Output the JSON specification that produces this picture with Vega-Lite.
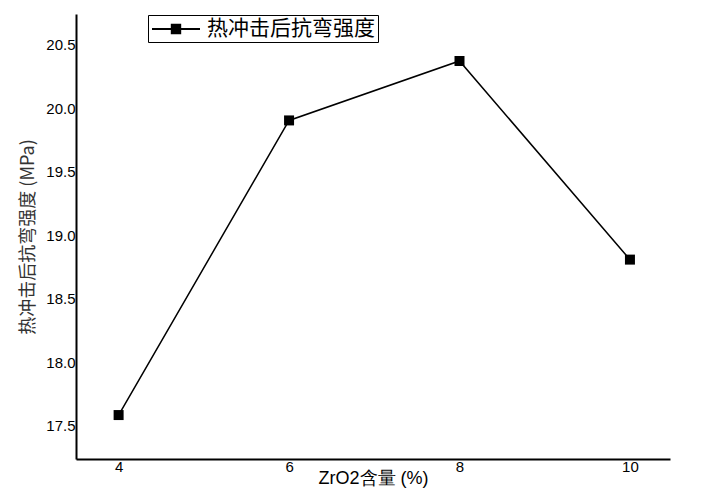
{
  "$schema": "https://vega.github.io/schema/vega-lite/v6.json",
  "autosize": "none",
  "width": 594,
  "height": 445,
  "padding": {"left": 76, "top": 14, "right": 58, "bottom": 40},
  "background": "white",
  "config": {"view": {"stroke": null}},
  "data": {"values": [
    {"x": 4, "y": 17.586, "s": "热冲击后抗弯强度"},
    {"x": 6, "y": 19.906, "s": "热冲击后抗弯强度"},
    {"x": 8, "y": 20.374, "s": "热冲击后抗弯强度"},
    {"x": 10, "y": 18.81, "s": "热冲击后抗弯强度"}
  ]},
  "encoding": {
    "x": {"field": "x", "type": "quantitative",
      "scale": {"domain": [3.5, 10.47], "nice": false, "zero": false},
      "axis": {"values": [4, 6, 8, 10], "title": "ZrO2含量 (%)", "grid": false, "ticks": false,
        "domainColor": "black", "domainWidth": 2, "labelFont": "Liberation Sans", "labelFontSize": 15,
        "labelColor": "black", "labelPadding": 0, "titleFont": "Liberation Sans", "titleFontSize": 18,
        "titleFontWeight": "normal", "titleColor": "black", "titlePadding": -5, "labelFlush": false}},
    "y": {"field": "y", "type": "quantitative",
      "scale": {"domain": [17.24, 20.744], "nice": false, "zero": false},
      "axis": {"values": [17.5, 18.0, 18.5, 19.0, 19.5, 20.0, 20.5], "format": ".1f", "title": "热冲击后抗弯强度 (MPa)",
        "grid": false, "ticks": false, "domainColor": "black", "domainWidth": 2,
        "labelFont": "Liberation Sans", "labelFontSize": 15, "labelColor": "black", "labelPadding": 1,
        "titleFont": "Noto Sans CJK SC", "titleFontSize": 18, "titleFontWeight": "normal", "titleColor": "#333",
        "titlePadding": 8, "labelFlush": false}},
    "color": {"field": "s", "type": "nominal", "scale": {"range": ["black"]},
      "legend": {"title": null, "orient": "none", "legendX": 72, "legendY": 1,
        "strokeColor": "black", "padding": 3, "labelFont": "Noto Sans CJK SC", "labelFontSize": 21,
        "labelColor": "black", "labelLimit": 400, "symbolType": "M-2.4,0L2.4,0M-0.42,-0.42L0.42,-0.42L0.42,0.42L-0.42,0.42Z",
        "symbolSize": 400, "symbolOffset": 14, "labelOffset": 20,
        "symbolFillColor": "black", "symbolStrokeColor": "black", "symbolStrokeWidth": 2}}
  },
  "layer": [
    {"mark": {"type": "line", "color": "black", "strokeWidth": 1.5}},
    {"mark": {"type": "point", "shape": "square", "filled": true, "size": 100, "opacity": 1, "color": "black"}}
  ]
}
